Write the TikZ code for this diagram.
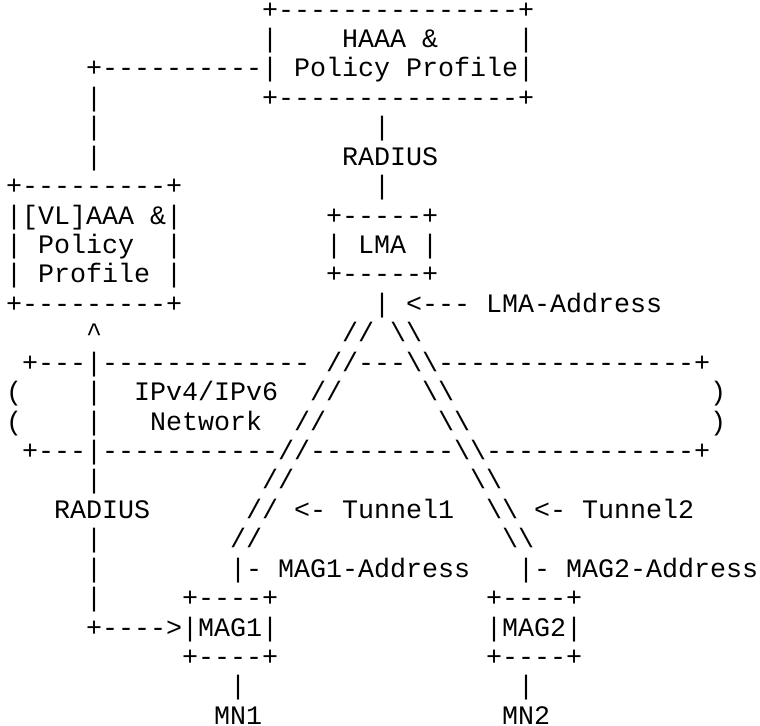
\documentclass[tikz,border=0pt]{standalone}
\usepackage{fontspec}
\setmonofont{Liberation Mono}
\newcommand{\asciiText}[3]{%
  %% one run of characters: line, column, text
  \node[textStyle] (t#1-#2) at ({\xlow+#2*\charWidth},{\ytop-(#1-1)*\lineHeight}) {#3};%
}
\newcommand{\bs}{\textbackslash}

\begin{document}
\begin{tikzpicture}[%
  x=1bp,y=1bp,%
  textStyle/.style={anchor=base west,inner sep=0pt,outer sep=0pt,%
    font=\ttfamily\fontsize{26.67bp}{29.43bp}\selectfont}%
]
%%
\pgfmathsetmacro{\charWidth}{16}     %% Width of one character.
\pgfmathsetmacro{\lineHeight}{29.43} %% Distance between two lines.
\pgfmathsetmacro{\xlow}{6}
\pgfmathsetmacro{\ytop}{707.9}
\useasboundingbox (0,0) rectangle (760,726);
%%
%% HAAA box
\asciiText{1}{16}{+---------------+}
\asciiText{2}{16}{|}
\asciiText{2}{21}{HAAA \&}
\asciiText{2}{32}{|}
\asciiText{3}{5}{+----------| Policy Profile|}
\asciiText{4}{5}{|}
\asciiText{4}{16}{+---------------+}
\asciiText{5}{5}{|}
\asciiText{5}{23}{|}
\asciiText{6}{5}{|}
\asciiText{6}{21}{RADIUS}
%% [VL]AAA box and LMA
\asciiText{7}{0}{+---------+}
\asciiText{7}{23}{|}
\asciiText{8}{0}{|[VL]AAA \&|}
\asciiText{8}{20}{+-----+}
\asciiText{9}{0}{| Policy}
\asciiText{9}{10}{|}
\asciiText{9}{20}{| LMA |}
\asciiText{10}{0}{| Profile |}
\asciiText{10}{20}{+-----+}
\asciiText{11}{0}{+---------+}
\asciiText{11}{23}{| <--- LMA-Address}
\asciiText{12}{5}{\textasciicircum}
\asciiText{12}{21}{// \bs\bs}
%% IPv4/IPv6 network
\asciiText{13}{1}{+---|-------------}
\asciiText{13}{20}{//---\bs\bs----------------+}
\asciiText{14}{0}{(}
\asciiText{14}{5}{|}
\asciiText{14}{8}{IPv4/IPv6}
\asciiText{14}{19}{//}
\asciiText{14}{26}{\bs\bs}
\asciiText{14}{44}{)}
\asciiText{15}{0}{(}
\asciiText{15}{5}{|}
\asciiText{15}{9}{Network}
\asciiText{15}{18}{//}
\asciiText{15}{27}{\bs\bs}
\asciiText{15}{44}{)}
\asciiText{16}{1}{+---|-----------//---------\bs\bs-------------+}
%% tunnels down to the MAGs
\asciiText{17}{5}{|}
\asciiText{17}{16}{//}
\asciiText{17}{29}{\bs\bs}
\asciiText{18}{3}{RADIUS}
\asciiText{18}{15}{// <- Tunnel1}
\asciiText{18}{30}{\bs\bs{} <- Tunnel2}
\asciiText{19}{5}{|}
\asciiText{19}{14}{//}
\asciiText{19}{31}{\bs\bs}
\asciiText{20}{5}{|}
\asciiText{20}{14}{|- MAG1-Address}
\asciiText{20}{32}{|- MAG2-Address}
%% MAG1, MAG2 and the mobile nodes
\asciiText{21}{5}{|}
\asciiText{21}{11}{+----+}
\asciiText{21}{30}{+----+}
\asciiText{22}{5}{+---->|MAG1|}
\asciiText{22}{30}{|MAG2|}
\asciiText{23}{11}{+----+}
\asciiText{23}{30}{+----+}
\asciiText{24}{14}{|}
\asciiText{24}{32}{|}
\asciiText{25}{13}{MN1}
\asciiText{25}{31}{MN2}
\end{tikzpicture}
\end{document}
